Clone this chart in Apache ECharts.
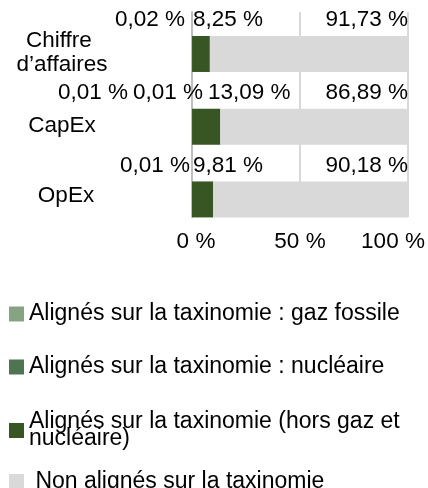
<!DOCTYPE html>
<html>
<head>
<meta charset="utf-8">
<script src="https://cdn.jsdelivr.net/npm/echarts@6/dist/echarts.min.js"></script>
<style>
html,body{margin:0;padding:0;background:#fff;}
#c{width:428px;height:488px;}
</style>
</head>
<body>
<div id="c"></div>
<script>
// ---- data ----
const categories = ['Chiffre d’affaires', 'CapEx', 'OpEx'];
const gazFossile = [0, 0.01, 0];
const nucleaire = [0.02, 0.01, 0.01];
const alignesHors = [8.25, 13.09, 9.81];
const nonAlignes = [91.73, 86.89, 90.18];
const seriesNames = [
  'Alignés sur la taxinomie : gaz fossile',
  'Alignés sur la taxinomie : nucléaire',
  'Alignés sur la taxinomie (hors gaz et nucléaire)',
  'Non alignés sur la taxinomie'
];
const xTicks = [0, 50, 100];

// ---- styles ----
const FONT = 'Liberation Sans';
const FS = 22.5;
const LFS = 23;
const colors = ['#86A383', '#4E7452', '#375623', '#D9D9D9'];
const labelDy = -16;
// manual label placement (per series, per category) like in the original
const labelPos = [
  [[-4, labelDy], [-64, labelDy], [-4, labelDy]],
  [[-7, labelDy], [11, labelDy], [-2, labelDy]],
  [[1, labelDy], [16, labelDy], [1, labelDy]],
  [['100%', labelDy], ['100%', labelDy], ['100%', labelDy]]
];
const labelAlign = ['right', 'right', 'left', 'right'];
const fmt = v => v.toFixed(2).replace('.', ',') + ' %';

const seriesValues = [gazFossile, nucleaire, alignesHors, nonAlignes];

const chart = echarts.init(document.getElementById('c'), null, {renderer: 'canvas'});

const series = seriesValues.map((vals, si) => ({
  name: seriesNames[si],
  type: 'bar',
  stack: 'total',
  xAxisIndex: 0,
  yAxisIndex: 0,
  barWidth: 36,
  itemStyle: {color: colors[si]},
  data: vals.map((v, ci) => ({
    value: v,
    label: {
      show: v > 0,
      position: labelPos[si][ci],
      align: labelAlign[si],
      verticalAlign: 'middle',
      formatter: p => fmt(p.value),
      fontFamily: FONT,
      fontSize: FS,
      color: '#000'
    }
  }))
}));

const legendTops = [302.5, 355.5, 410.5, 470.5];
const legends = seriesNames.map((n, i) => ({
  data: [n],
  orient: 'vertical', left: 9, top: legendTops[i], padding: 0,
  icon: 'rect', itemWidth: 15, itemHeight: i === 3 ? 16 : 15, itemGap: 5,
  selectedMode: false,
  formatter: s => (i === 3 ? ' ' + s : s.replace('(hors gaz et ', '(hors gaz et\n')),
  textStyle: {fontFamily: FONT, fontSize: LFS, color: '#000', lineHeight: 17}
}));

const option = {
  animation: false,
  backgroundColor: '#fff',
  textStyle: {fontFamily: FONT},
  grid: [
    {left: 192, width: 216, top: 17.6, height: 218.2},
    {left: 192, width: 216, top: 12, height: 205}
  ],
  xAxis: [
    {type: 'value', gridIndex: 0, min: 0, max: 100, show: false},
    {
      type: 'value', gridIndex: 1, min: xTicks[0], max: xTicks[xTicks.length - 1], interval: xTicks[1] - xTicks[0],
      axisLine: {show: false}, axisTick: {show: false},
      splitLine: {show: true, lineStyle: {color: '#D9D9D9', width: 2}},
      axisLabel: {
        margin: 13, fontFamily: FONT, fontSize: FS, color: '#000',
        formatter: v => (v === 100 ? '{r|' + v + ' %}' : v === 0 ? '{l|' + v + ' %}' : v + ' %'),
        rich: {
          r: {fontFamily: FONT, fontSize: FS, color: '#000', padding: [0, 30, 0, 0]},
          l: {fontFamily: FONT, fontSize: FS, color: '#000', padding: [0, 0, 0, 8]}
        }
      }
    }
  ],
  yAxis: [
    {
      type: 'category', gridIndex: 0, data: categories, inverse: true,
      axisLine: {show: false}, axisTick: {show: false}, splitLine: {show: false},
      axisLabel: {
        margin: 130, align: 'center', fontFamily: FONT, fontSize: FS, color: '#000',
        lineHeight: 24, width: 110, overflow: 'break', padding: [0, 0, 2, 0],
        formatter: (v, i) => (i === 2 ? '{o|' + v + '}' : v),
        rich: {o: {fontFamily: FONT, fontSize: FS, color: '#000', padding: [0, 0, 5, 8]}}
      }
    },
    {
      type: 'value', gridIndex: 1, min: 0, max: 1,
      axisLine: {show: true, lineStyle: {color: '#BFBFBF', width: 2}},
      axisTick: {show: false}, axisLabel: {show: false}, splitLine: {show: false}
    }
  ],
  legend: legends,
  series: series
};
chart.setOption(option);
</script>
</body>
</html>
